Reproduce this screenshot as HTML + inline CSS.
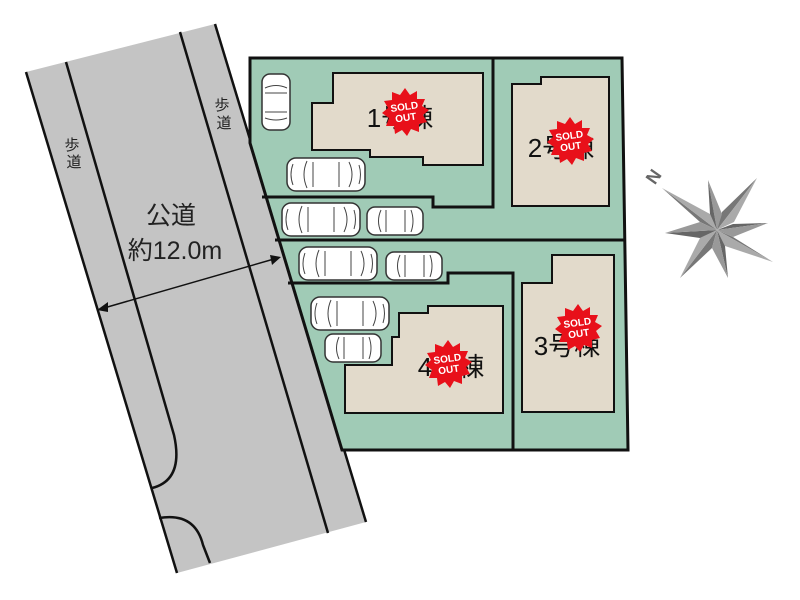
<!DOCTYPE html>
<html><head><meta charset="utf-8"><style>
html,body{margin:0;padding:0;background:#fff;width:800px;height:600px;overflow:hidden}
text{font-family:"Liberation Sans","Noto Sans CJK JP",sans-serif}
</style></head><body>
<svg width="800" height="600" viewBox="0 0 800 600" xmlns="http://www.w3.org/2000/svg">
<defs>
<g id="carH">
<rect x="0" y="0" width="78" height="33" rx="9" fill="#fff" stroke="#333" stroke-width="1.5"/>
<path d="M20 3 Q14 16.5 20 30 M62 4 Q68 16.5 62 29 M26 4 L26 29 M52 4 L52 29 M6 6 Q2 16.5 6 27 M72 7 Q75 16.5 72 26" fill="none" stroke="#444" stroke-width="1"/>
</g>
<g id="carS">
<rect x="0" y="0" width="56" height="28" rx="8" fill="#fff" stroke="#333" stroke-width="1.5"/>
<path d="M14 3 Q9 14 14 25 M44 3 Q48 14 44 25 M19 3 L19 25 M38 3 L38 25" fill="none" stroke="#444" stroke-width="1"/>
</g>
<g id="sold">
<polygon fill="#e8101a" points="0,-24 5,-17 12,-21 12,-13 20,-13 17,-6 24,-2 18,3 22,10 14,12 14,20 6,17 2,24 -3,18 -10,22 -11,14 -19,14 -16,6 -23,1 -17,-4 -21,-11 -13,-12 -13,-20 -5,-17"/>
<text x="0" y="-2" font-size="10" font-weight="bold" fill="#fff" text-anchor="middle" transform="rotate(-8)">SOLD</text>
<text x="0" y="9" font-size="10" font-weight="bold" fill="#fff" text-anchor="middle" transform="rotate(-8)">OUT</text>
</g>
</defs>
<!-- road -->
<polygon points="26,72 215,24 366,522 177,573" fill="#c4c4c4"/>
<line x1="26" y1="72" x2="177" y2="573" stroke="#111" stroke-width="2.5"/>
<line x1="215" y1="24" x2="366" y2="522" stroke="#111" stroke-width="2.5"/>
<line x1="180" y1="32" x2="328" y2="533" stroke="#111" stroke-width="2.5"/>
<path d="M66 62 L174 435 Q184 480 152 488" fill="none" stroke="#111" stroke-width="2.5"/>
<path d="M159 518 Q195 512 203 545 L210 563" fill="none" stroke="#111" stroke-width="2.5"/>
<!-- lot -->
<polygon points="250,58 622,58 628,450 342,450 250,143" fill="#a0cbb6" stroke="#111" stroke-width="3"/>
<polyline points="262,197 433,197 433,207 493,207 493,58" fill="none" stroke="#111" stroke-width="3"/>
<line x1="275" y1="240" x2="624" y2="240" stroke="#111" stroke-width="3"/>
<polyline points="288,283 448,283 448,273 513,273 513,450" fill="none" stroke="#111" stroke-width="3"/>
<!-- buildings -->
<polygon points="333,73 483,73 483,165 423,165 423,157 370,157 370,150 312,150 312,103 333,103" fill="#e2dacb" stroke="#111" stroke-width="2"/>
<polygon points="512,84 541,84 541,77 609,77 609,206 512,206" fill="#e2dacb" stroke="#111" stroke-width="2"/>
<polygon points="345,413 345,365 392,365 392,337 399,337 399,313 428,313 428,306 503,306 503,413" fill="#e2dacb" stroke="#111" stroke-width="2"/>
<polygon points="522,283 552,283 552,255 614,255 614,412 522,412" fill="#e2dacb" stroke="#111" stroke-width="2"/>
<!-- labels -->
<g font-size="26" fill="#111" text-anchor="middle">
<text x="400" y="127">1号棟</text>
<text x="561" y="157">2号棟</text>
<text x="567" y="355">3号棟</text>
<text x="451" y="376">4号棟</text>
</g>
<use href="#sold" x="405" y="112"/>
<use href="#sold" x="570" y="141"/>
<use href="#sold" x="578" y="328"/>
<use href="#sold" x="448" y="364"/>
<!-- cars -->
<g transform="translate(290,74) rotate(90)"><use href="#carS" transform="scale(1.0,1.0)"/></g>
<use href="#carH" x="287" y="158"/>
<use href="#carH" x="282" y="203"/>
<use href="#carS" x="367" y="207"/>
<use href="#carH" x="299" y="247"/>
<use href="#carS" x="386" y="252"/>
<use href="#carH" x="311" y="297"/>
<use href="#carS" x="325" y="334"/>
<!-- road labels -->
<g font-size="15" fill="#222" text-anchor="middle">
<text x="72" y="150">歩</text><text x="74" y="167">道</text>
<text x="222" y="110">歩</text><text x="224" y="128">道</text>
</g>
<text x="171" y="224" font-size="25" fill="#222" text-anchor="middle">公道</text>
<text x="175" y="259" font-size="25" fill="#222" text-anchor="middle">約12.0m</text>
<line x1="104" y1="308" x2="274" y2="259" stroke="#111" stroke-width="1.5"/>
<polygon points="97,310 108,302 108,312" fill="#111"/>
<polygon points="281,257 270,255 272,265" fill="#111"/>
<!-- compass -->
<text x="650" y="188" font-size="18" font-weight="bold" fill="#666" transform="rotate(-55 650 182)">N</text>
<g>
<polygon points="662,188 717,230 700,222" fill="#777"/>
<polygon points="662,188 717,230 710,214" fill="#aaa"/>
<polygon points="773,262 717,230 733,237" fill="#777"/>
<polygon points="773,262 717,230 725,246" fill="#aaa"/>
<polygon points="757,178 717,230 722,212" fill="#777"/>
<polygon points="757,178 717,230 734,222" fill="#aaa"/>
<polygon points="680,278 717,230 712,248" fill="#777"/>
<polygon points="680,278 717,230 700,238" fill="#aaa"/>
<polygon points="708,180 717,230 722,214" fill="#999"/>
<polygon points="708,180 717,230 710,214" fill="#666"/>
<polygon points="768,223 717,230 733,224" fill="#666"/>
<polygon points="768,223 717,230 733,237" fill="#999"/>
<polygon points="728,278 717,230 725,246" fill="#666"/>
<polygon points="728,278 717,230 712,248" fill="#999"/>
<polygon points="665,233 717,230 700,238" fill="#666"/>
<polygon points="665,233 717,230 700,222" fill="#999"/>
</g>
</svg>
</body></html>
